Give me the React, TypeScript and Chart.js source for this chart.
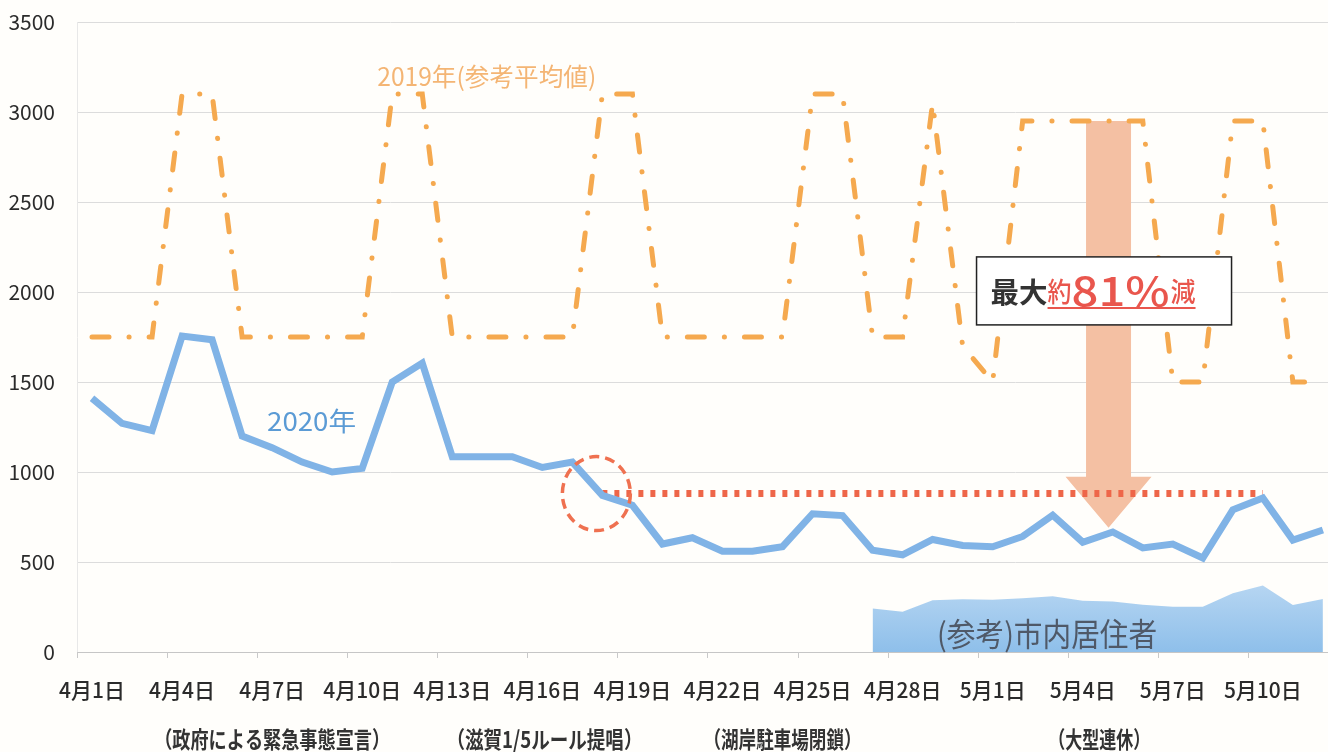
import React, { useEffect, useRef } from "react";
import { Chart, registerables } from "chart.js";

Chart.register(...registerables);

const dates = [
  "4月1日", "4月2日", "4月3日", "4月4日", "4月5日", "4月6日", "4月7日", "4月8日", "4月9日", "4月10日",
  "4月11日", "4月12日", "4月13日", "4月14日", "4月15日", "4月16日", "4月17日", "4月18日", "4月19日", "4月20日",
  "4月21日", "4月22日", "4月23日", "4月24日", "4月25日", "4月26日", "4月27日", "4月28日", "4月29日", "4月30日",
  "5月1日", "5月2日", "5月3日", "5月4日", "5月5日", "5月6日", "5月7日", "5月8日", "5月9日", "5月10日",
  "5月11日", "5月12日",
];

const tickIndices = [0, 3, 6, 9, 12, 15, 18, 21, 24, 27, 30, 33, 36, 39];
const yTicks = [0, 500, 1000, 1500, 2000, 2500, 3000, 3500];

const visitors2020 = [
  1410, 1270, 1230, 1755, 1735, 1200, 1135, 1055, 1000, 1020,
  1500, 1605, 1085, 1085, 1085, 1025, 1055, 870, 815, 600,
  635, 560, 560, 585, 768, 758, 565, 540, 625, 592,
  585, 642, 760, 610, 667, 578, 600, 522, 790, 856,
  622, 678,
];

const average2019 = [
  1750, 1750, 1750, 3100, 3100, 1750, 1750, 1750, 1750, 1750,
  3100, 3100, 1750, 1750, 1750, 1750, 1750, 3100, 3100, 1750,
  1750, 1750, 1750, 1750, 3100, 3100, 1750, 1750, 3050, 1700,
  1500, 2950, 2950, 2950, 2950, 2950, 1500, 1500, 2950, 2950,
  1500, 1500,
];

const residentsStart = 26;
const residents = [242, 224, 287, 293, 290, 298, 310, 285, 281, 262, 252, 252, 326, 370, 261, 295];

const reductionLevel = 880;
const reductionFrom = 17;
const reductionTo = 39;

const circleIndex = 16.8;
const arrowIndex = 33.86;
const arrowTop = 2950;
const arrowTip = 690;

const events = [
  { text: "（政府による緊急事態宣言）", at: 6 },
  { text: "（滋賀1/5ルール提唱）", at: 15.07 },
  { text: "（湖岸駐車場閉鎖）", at: 23 },
  { text: "（大型連休）", at: 33.55 },
];

const FONT = "'Noto Sans CJK JP', 'Noto Sans', sans-serif";

function fitText(ctx: CanvasRenderingContext2D, text: string, left: number, cy: number, width: number) {
  const w = ctx.measureText(text).width;
  ctx.save();
  ctx.translate(left, cy);
  ctx.scale(width / w, 1);
  ctx.textAlign = "left";
  ctx.textBaseline = "middle";
  ctx.fillText(text, 0, 0);
  ctx.restore();
}

const annotationPlugin = {
  id: "annotations",
  beforeDatasetsDraw(chart: any) {
    const { ctx, scales, chartArea } = chart;
    const x = scales.x;
    const y = scales.y;
    ctx.save();
    ctx.strokeStyle = "#c9c9c9";
    ctx.lineWidth = 1;
    for (let k = -0.5; k <= 41; k += 3) {
      const px = Math.round(x.getPixelForValue(k)) + 0.5;
      ctx.beginPath();
      ctx.moveTo(px, chartArea.bottom);
      ctx.lineTo(px, chartArea.bottom + 6);
      ctx.stroke();
    }
    ctx.restore();

    const ax = x.getPixelForValue(arrowIndex);
    const top = y.getPixelForValue(arrowTop);
    const tip = y.getPixelForValue(arrowTip);
    ctx.save();
    ctx.fillStyle = "#f4c0a3";
    ctx.beginPath();
    ctx.moveTo(ax - 22.5, top);
    ctx.lineTo(ax + 22.5, top);
    ctx.lineTo(ax + 22.5, tip - 51);
    ctx.lineTo(ax + 43, tip - 51);
    ctx.lineTo(ax, tip);
    ctx.lineTo(ax - 43, tip - 51);
    ctx.lineTo(ax - 22.5, tip - 51);
    ctx.closePath();
    ctx.fill();
    ctx.restore();
  },
  afterDatasetsDraw(chart: any) {
    const { ctx, scales, chartArea } = chart;
    const x = scales.x;
    const y = scales.y;

    ctx.save();
    ctx.strokeStyle = "#ef7150";
    ctx.lineWidth = 3.5;
    ctx.setLineDash([10, 6]);
    ctx.beginPath();
    ctx.ellipse(x.getPixelForValue(circleIndex), y.getPixelForValue(reductionLevel), 34, 37, 0, 0, Math.PI * 2);
    ctx.stroke();
    ctx.restore();

    ctx.save();
    ctx.fillStyle = "#f4b574";
    ctx.font = `25px ${FONT}`;
    fitText(ctx, "2019年(参考平均値)", x.getPixelForValue(9.5), y.getPixelForValue(3195), 219);
    ctx.fillStyle = "#5b9bd5";
    ctx.font = `26px ${FONT}`;
    fitText(ctx, "2020年", x.getPixelForValue(5.83), y.getPixelForValue(1283), 89);
    ctx.fillStyle = "#4f5968";
    ctx.font = `32px ${FONT}`;
    fitText(ctx, "(参考)市内居住者", x.getPixelForValue(28.15), y.getPixelForValue(100), 220);
    ctx.restore();

    const ax = x.getPixelForValue(arrowIndex);
    const bl = ax - 132;
    const bt = y.getPixelForValue(2195);
    ctx.save();
    ctx.fillStyle = "#ffffff";
    ctx.fillRect(bl, bt, 255, 68);
    ctx.strokeStyle = "#222222";
    ctx.lineWidth = 1.5;
    ctx.strokeRect(bl, bt, 255, 68);
    const cy = bt + 35;
    ctx.fillStyle = "#333333";
    ctx.font = `bold 28px ${FONT}`;
    fitText(ctx, "最大", bl + 14, cy, 57);
    ctx.fillStyle = "#e9564d";
    ctx.font = `500 27px ${FONT}`;
    fitText(ctx, "約", bl + 71, cy, 24);
    ctx.font = `500 40px ${FONT}`;
    fitText(ctx, "81%", bl + 95, cy - 1, 98);
    ctx.font = `500 27px ${FONT}`;
    fitText(ctx, "減", bl + 194, cy, 25);
    ctx.strokeStyle = "#e9564d";
    ctx.lineWidth = 2;
    ctx.beginPath();
    ctx.moveTo(bl + 71, bt + 51);
    ctx.lineTo(bl + 219, bt + 51);
    ctx.stroke();
    ctx.restore();

    ctx.save();
    ctx.fillStyle = "#333333";
    ctx.font = `bold 23px ${FONT}`;
    const widths = [236, 196, 158, 102];
    events.forEach((e, i) => {
      const cx = x.getPixelForValue(e.at);
      fitText(ctx, e.text, cx - widths[i] / 2, chartArea.bottom + 87, widths[i]);
    });
    ctx.restore();
  },
};

export default function App() {
  const canvasRef = useRef<HTMLCanvasElement | null>(null);

  useEffect(() => {
    document.body.style.margin = "0";
    document.body.style.background = "#fffefb";
    const canvas = canvasRef.current;
    if (!canvas) return;

    const pts = (arr: (number | null)[]) => arr.map((v, i) => ({ x: i, y: v }));
    const residentData = dates.map((_, i) =>
      i >= residentsStart && i < residentsStart + residents.length ? residents[i - residentsStart] : null
    );
    const reductionData = dates.map((_, i) => (i >= reductionFrom && i <= reductionTo ? reductionLevel : null));

    const chart = new Chart(canvas, {
      type: "line",
      data: {
        datasets: [
          {
            label: "2020年",
            data: pts(visitors2020) as any,
            borderColor: "#80b3e6",
            borderWidth: 7,
            pointRadius: 0,
            tension: 0,
            order: 0,
          },
          {
            label: "最大約81%減",
            data: pts(reductionData) as any,
            borderColor: "#ee6649",
            borderWidth: 7,
            borderDash: [5, 7],
            borderCapStyle: "butt",
            pointRadius: 0,
            spanGaps: false,
            order: 1,
          },
          {
            label: "2019年(参考平均値)",
            data: pts(average2019) as any,
            borderColor: "#f5a94f",
            borderWidth: 5,
            borderDash: [17, 20, 0.1, 20],
            borderCapStyle: "round",
            pointRadius: 0,
            tension: 0,
            order: 2,
          },
          {
            label: "(参考)市内居住者",
            data: pts(residentData) as any,
            borderWidth: 0,
            borderColor: "rgba(0,0,0,0)",
            pointRadius: 0,
            fill: "origin",
            spanGaps: false,
            backgroundColor: (c: any) => {
              const { ctx, chartArea, scales } = c.chart;
              if (!chartArea || !scales.y) return "#a5cbef";
              const g = ctx.createLinearGradient(0, scales.y.getPixelForValue(380), 0, chartArea.bottom);
              g.addColorStop(0, "#b7d6f2");
              g.addColorStop(1, "#8ebfea");
              return g;
            },
            order: 3,
          },
        ],
      },
      options: {
        animation: false,
        responsive: true,
        maintainAspectRatio: false,
        layout: { padding: { top: 22, right: 0, bottom: 0, left: 0 } },
        plugins: { legend: { display: false }, tooltip: { enabled: false } },
        scales: {
          x: {
            type: "linear",
            min: -0.5,
            max: 41.17,
            afterBuildTicks: (s: any) => {
              s.ticks = tickIndices.map((v) => ({ value: v }));
            },
            afterFit: (s: any) => {
              s.height = 100;
              s.paddingLeft = 0;
              s.paddingRight = 0;
            },
            grid: { display: false, drawTicks: false },
            border: { display: true, color: "#c6c6c6" },
            ticks: {
              autoSkip: false,
              maxRotation: 0,
              padding: 25,
              color: "#2b2b2b",
              font: { family: FONT, size: 21, weight: 500 },
              callback: (v: any) => dates[Math.round(Number(v))],
            },
          },
          y: {
            min: 0,
            max: 3500,
            afterBuildTicks: (s: any) => {
              s.ticks = yTicks.map((v) => ({ value: v }));
            },
            afterFit: (s: any) => {
              s.width = 77;
              s.paddingTop = 0;
              s.paddingBottom = 0;
            },
            grid: { color: "#dcdcdc", drawTicks: false },
            border: { display: true, color: "#e8e8e8" },
            ticks: {
              padding: 22,
              color: "#2b2b2b",
              font: { family: FONT, size: 21 },
              callback: (v: any) => String(v),
            },
          },
        },
      },
      plugins: [annotationPlugin],
    });

    return () => chart.destroy();
  }, []);

  return (
    <div style={{ position: "fixed", left: 0, top: 0, width: 1328, height: 752, background: "#fffefb" }}>
      <canvas ref={canvasRef} />
    </div>
  );
}
